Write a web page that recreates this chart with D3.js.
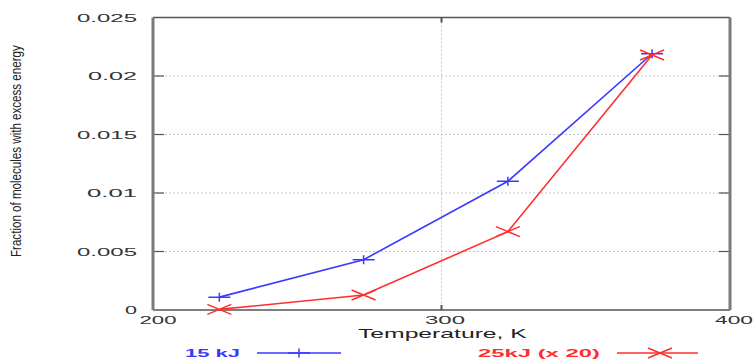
<!DOCTYPE html>
<html><head><meta charset="utf-8">
<script src="https://cdn.jsdelivr.net/npm/d3@7"></script>
<style>body{margin:0;background:#fff}svg{display:block}</style>
</head><body>
<svg id="c" width="754" height="360"></svg>
<script>
const temperatures = [223, 273, 323, 373];
const series15kJ = [0.0011, 0.0043, 0.0110, 0.0219];
const series25kJx20 = [0.00005, 0.00128, 0.0067, 0.0218];
const yTicks = [0, 0.005, 0.01, 0.015, 0.02, 0.025];
const yTickLabels = ["0", "0.005", "0.01", "0.015", "0.02", "0.025"];
const xTicks = [200, 300, 400];
const xTickLabels = ["200", "300", "400"];
const seriesNames = ["15 kJ", "25kJ (x 20)"];

const svg = d3.select("#c");
const x = d3.scaleLinear().domain([200, 400]).range([153, 730]);
const y = d3.scaleLinear().domain([0, 0.025]).range([310, 17.5]);
const FONT = "Liberation Sans, Arial, sans-serif";
const blue = "#3a3aff", red = "#ff2e2e";

// gridlines
const g = svg.append("g");
g.selectAll("line.hg").data(yTicks.slice(1, -1)).enter().append("line")
  .attr("x1", x(200)).attr("x2", x(400)).attr("y1", d => y(d)).attr("y2", d => y(d))
  .attr("stroke", "#c4c4c4").attr("stroke-width", 1).attr("stroke-dasharray", "2,2");
g.selectAll("line.vg").data([300]).enter().append("line")
  .attr("x1", d => x(d)).attr("x2", d => x(d)).attr("y1", y(0.025)).attr("y2", y(0))
  .attr("stroke", "#c4c4c4").attr("stroke-width", 1).attr("stroke-dasharray", "2,2");

// ticks inward (left/right)
yTicks.slice(1, -1).forEach(v => {
  svg.append("line").attr("x1", x(200)).attr("x2", x(200) + 11).attr("y1", y(v)).attr("y2", y(v))
    .attr("stroke", "#555").attr("stroke-width", 1.2);
  svg.append("line").attr("x1", x(400)).attr("x2", x(400) - 11).attr("y1", y(v)).attr("y2", y(v))
    .attr("stroke", "#555").attr("stroke-width", 1.2);
});
[300].forEach(v => {
  svg.append("line").attr("x1", x(v)).attr("x2", x(v)).attr("y1", y(0)).attr("y2", y(0) - 5)
    .attr("stroke", "#555").attr("stroke-width", 2);
  svg.append("line").attr("x1", x(v)).attr("x2", x(v)).attr("y1", y(0.025)).attr("y2", y(0.025) + 5)
    .attr("stroke", "#555").attr("stroke-width", 2);
});

// frame
svg.append("line").attr("x1", x(200)).attr("x2", x(400)).attr("y1", y(0.025)).attr("y2", y(0.025))
  .attr("stroke", "#555").attr("stroke-width", 1.5);
svg.append("line").attr("x1", x(200)).attr("x2", x(400)).attr("y1", y(0)).attr("y2", y(0))
  .attr("stroke", "#555").attr("stroke-width", 1.5);
svg.append("line").attr("x1", x(200)).attr("x2", x(200)).attr("y1", y(0.025)).attr("y2", y(0))
  .attr("stroke", "#7a7a7a").attr("stroke-width", 3);
svg.append("line").attr("x1", x(400)).attr("x2", x(400)).attr("y1", y(0.025)).attr("y2", y(0))
  .attr("stroke", "#7a7a7a").attr("stroke-width", 3);

// helper: stretch text horizontally to a given width via transform scale
function fitText(parent, txt, px, py, width, size, color, weight, rotate) {
  const t = parent.append("text").attr("font-family", FONT).attr("font-size", size)
    .attr("fill", color).attr("font-weight", weight || "normal").text(txt);
  const w = t.node().getComputedTextLength();
  const s = width / w;
  t.attr("transform", `translate(${px},${py})` + (rotate ? ` rotate(${rotate})` : "") + ` scale(${s},1)`);
  return t;
}

// y tick labels
const yLen = {"0": 12, "0.005": 60, "0.01": 50, "0.015": 60, "0.02": 49, "0.025": 60};
yTicks.forEach((v, i) => {
  const lbl = yTickLabels[i];
  fitText(svg, lbl, 137 - yLen[lbl], y(v) + 4, yLen[lbl], 11, "#333");
});
// x tick labels
const xCenters = [158, 445, 734], xLens = [37, 40, 38];
xTicks.forEach((v, i) => {
  fitText(svg, xTickLabels[i], x(v) + (xCenters[i] - x(v)) - xLens[i] / 2, 324, xLens[i], 11, "#333");
});

// axis titles
fitText(svg, "Temperature, K", 358, 338, 169, 12, "#222");
fitText(svg, "Fraction of molecules with excess energy", 21, 257, 212, 15, "#222", "normal", -90);

// series
const line = d3.line().x(d => x(d[0])).y(d => y(d[1]));
function plus(sel, cx, cy, color) {
  sel.append("path").attr("d", `M${cx - 11},${cy}H${cx + 11}M${cx},${cy - 4.5}V${cy + 4.5}`)
    .attr("stroke", color).attr("stroke-width", 1.5).attr("fill", "none");
}
function cross(sel, cx, cy, color) {
  sel.append("path").attr("d", `M${cx - 12},${cy - 5}L${cx + 12},${cy + 5}M${cx - 12},${cy + 5}L${cx + 12},${cy - 5}`)
    .attr("stroke", color).attr("stroke-width", 1.5).attr("fill", "none");
}
const d15 = temperatures.map((t, i) => [t, series15kJ[i]]);
const d25 = temperatures.map((t, i) => [t, series25kJx20[i]]);
svg.append("path").attr("d", line(d15)).attr("stroke", blue).attr("stroke-width", 1.6).attr("fill", "none");
svg.append("path").attr("d", line(d25)).attr("stroke", red).attr("stroke-width", 1.6).attr("fill", "none");
d15.forEach(d => plus(svg, x(d[0]), y(d[1]), blue));
d25.forEach(d => cross(svg, x(d[0]), y(d[1]), red));

// legend
fitText(svg, seriesNames[0], 185, 356.5, 55, 11, blue, "bold");
svg.append("line").attr("x1", 257).attr("x2", 341).attr("y1", 353).attr("y2", 353).attr("stroke", blue).attr("stroke-width", 1.5);
plus(svg, 299, 353, blue);
fitText(svg, seriesNames[1], 478, 356.5, 122, 11, red, "bold");
svg.append("line").attr("x1", 617).attr("x2", 698).attr("y1", 353).attr("y2", 353).attr("stroke", red).attr("stroke-width", 1.5);
cross(svg, 660, 353, red);
</script>
</body></html>
